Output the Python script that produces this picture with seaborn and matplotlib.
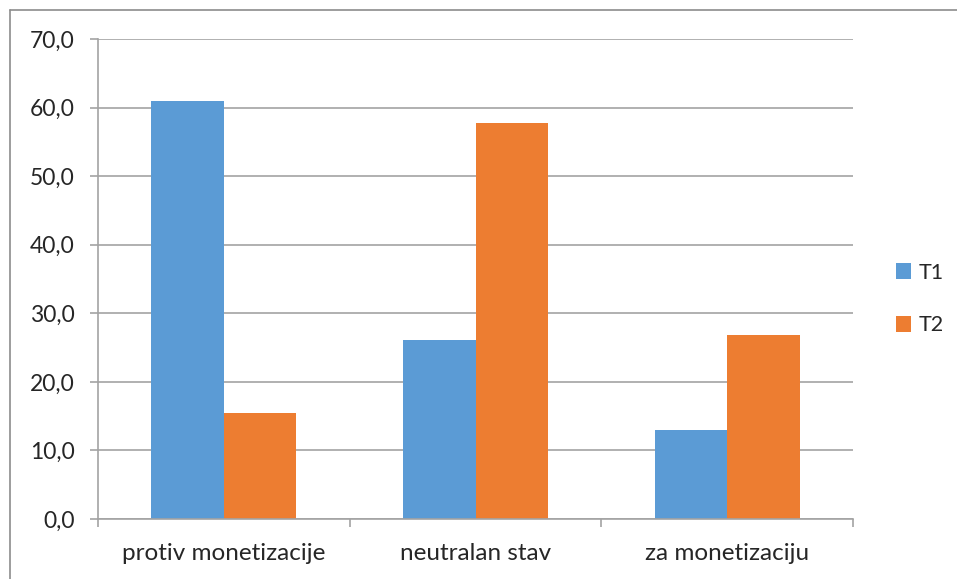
import matplotlib
matplotlib.use("Agg")
import matplotlib.pyplot as plt
import seaborn as sns
import pandas as pd
from matplotlib.lines import Line2D
from matplotlib.patches import Patch
from matplotlib.ticker import FuncFormatter, FixedLocator

categories = ["protiv monetizacije", "neutralan stav", "za monetizaciju"]
series_names = ["T1", "T2"]
t1_values = [60.9, 26.1, 13.0]
t2_values = [15.4, 57.7, 26.8]
y_ticks = [0, 10, 20, 30, 40, 50, 60, 70]
colors = ["#5B9BD5", "#ED7D31"]

df = pd.DataFrame({
    "category": categories * 2,
    "series": [series_names[0]] * 3 + [series_names[1]] * 3,
    "value": t1_values + t2_values,
})

sns.set_theme(style="white")
plt.rcParams["font.family"] = ["Lato", "DejaVu Sans"]

fig = plt.figure(figsize=(9.57, 5.79), dpi=100)
ax = fig.add_axes([98/957, 1-519/579, (853-98)/957, (519-39)/579])

sns.barplot(data=df, x="category", y="value", hue="series", order=categories,
            hue_order=series_names, palette=colors, width=0.575, gap=0,
            saturation=1, ax=ax, legend=False, linewidth=0)

gray = "#a3a3a3"
ax.set_ylim(0, 70)
ax.set_xlim(-0.5, 2.5)
ax.yaxis.set_major_locator(FixedLocator(y_ticks))
ax.yaxis.set_major_formatter(FuncFormatter(lambda v, p: f"{v:.1f}".replace(".", ",")))
ax.grid(axis="y", color=gray, linewidth=1.2)
ax.set_axisbelow(True)
for s in ["top", "right"]:
    ax.spines[s].set_visible(False)
for s in ["left", "bottom"]:
    ax.spines[s].set_color(gray)
    ax.spines[s].set_linewidth(1.2)
ax.set_xlabel("")
ax.set_ylabel("")
ax.tick_params(axis="y", which="major", left=True, length=6, width=1.2, color=gray,
               labelsize=16.5, labelcolor="#262626", pad=11)
ax.tick_params(axis="x", which="major", bottom=False, length=0, labelsize=17.5,
               labelcolor="#262626", pad=17)
ax.xaxis.set_minor_locator(FixedLocator([-0.5, 0.5, 1.5, 2.5]))
ax.tick_params(axis="x", which="minor", bottom=True, length=6, width=1.2, color=gray)

handles = [Patch(facecolor=c, edgecolor="none") for c in colors]
fig.legend(handles, series_names, loc="center left", bbox_to_anchor=(896/957, 1-299/579),
           frameon=False, fontsize=15.5, handlelength=0.7, handleheight=0.75,
           handletextpad=0.35, labelspacing=1.5, borderaxespad=0, borderpad=0)

fig.add_artist(Line2D([9.5/957, 1], [1-9.5/579, 1-9.5/579], transform=fig.transFigure,
                      color="#8c8c8c", linewidth=1.2))
fig.add_artist(Line2D([9.5/957, 9.5/957], [0, 1-9.5/579], transform=fig.transFigure,
                      color="#8c8c8c", linewidth=1.2))

fig.savefig("out.png", dpi=100)
